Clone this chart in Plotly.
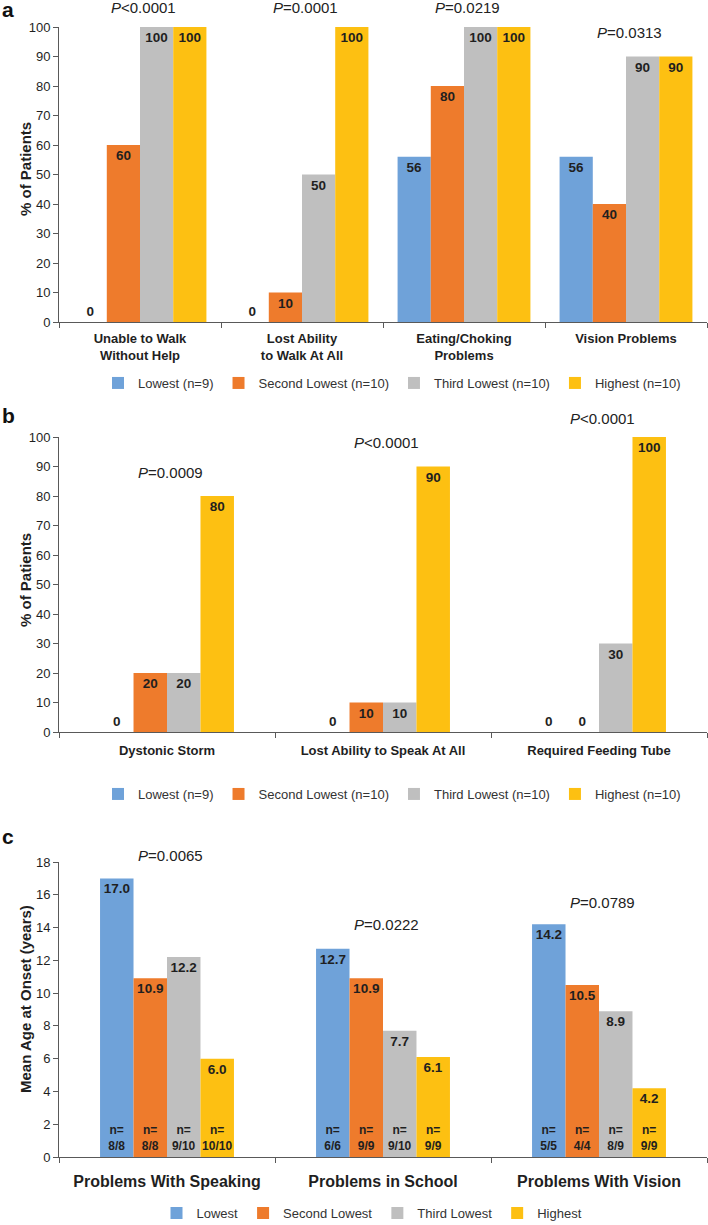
import plotly.graph_objects as go

W, H = 708, 1225

GROUPS = ["Lowest", "Second Lowest", "Third Lowest", "Highest"]
GROUP_N = ["(n=9)", "(n=10)", "(n=10)", "(n=10)"]
COLORS = ["#6fa2d9", "#ee7b2c", "#bfbfbf", "#fdc012"]

# panel a
a_categories = ["Unable to Walk<br>Without Help", "Lost Ability<br>to Walk At All",
                "Eating/Choking<br>Problems", "Vision Problems"]
a_lowest = [0, 0, 56, 56]
a_second = [60, 10, 80, 40]
a_third = [100, 50, 100, 90]
a_highest = [100, 100, 100, 90]
a_pvalues = ["&lt;0.0001", "=0.0001", "=0.0219", "=0.0313"]
a_p_y = [106.5, 106.5, 106.5, 98.0]

# panel b
b_categories = ["Dystonic Storm", "Lost Ability to Speak At All", "Required Feeding Tube"]
b_lowest = [0, 0, 0]
b_second = [20, 10, 0]
b_third = [20, 10, 30]
b_highest = [80, 90, 100]
b_pvalues = ["=0.0009", "&lt;0.0001", "&lt;0.0001"]
b_p_y = [88.0, 98.3, 106.4]

# panel c
c_categories = ["Problems With Speaking", "Problems in School", "Problems With Vision"]
c_lowest = [17.0, 12.7, 14.2]
c_second = [10.9, 10.9, 10.5]
c_third = [12.2, 7.7, 8.9]
c_highest = [6.0, 6.1, 4.2]
c_n_lowest = ["8/8", "6/6", "5/5"]
c_n_second = ["8/8", "9/9", "4/4"]
c_n_third = ["9/10", "9/10", "8/9"]
c_n_highest = ["10/10", "9/9", "9/9"]
c_pvalues = ["=0.0065", "=0.0222", "=0.0789"]
c_p_y = [18.4, 14.2, 15.55]

FONT = "Liberation Sans, Arial, sans-serif"
NARROW = "Liberation Sans Narrow, Arial Narrow, Liberation Sans, Arial, sans-serif"
INK = "#1f1f1f"
AXIS = "#595959"

fig = go.Figure()


def add_panel(idx, cats, series, names, width, fmt, legend):
    xa = "x" if idx == 1 else f"x{idx}"
    ya = "y" if idx == 1 else f"y{idx}"
    for k, vals in enumerate(series):
        fig.add_trace(go.Bar(
            x=cats, y=vals, name=names[k], marker_color=COLORS[k],
            marker_line_width=0,
            width=width, offset=-2 * width + k * width,
            text=[fmt.format(v) for v in vals],
            textposition=["outside" if v == 0 else "inside" for v in vals],
            insidetextanchor="end", textangle=0, constraintext="none",
            textfont=dict(family=NARROW, size=13.5, color=INK, weight="bold"),
            cliponaxis=False, xaxis=xa, yaxis=ya, legend=legend,
        ))


add_panel(1, a_categories, [a_lowest, a_second, a_third, a_highest],
          [f"{g} {n}" for g, n in zip(GROUPS, GROUP_N)], 0.205, "{:g}", "legend")
add_panel(2, b_categories, [b_lowest, b_second, b_third, b_highest],
          [f"{g} {n}" for g, n in zip(GROUPS, GROUP_N)], 0.155, "{:g}", "legend2")
add_panel(3, c_categories, [c_lowest, c_second, c_third, c_highest],
          GROUPS, 0.155, "{:.1f}", "legend3")

# n= labels sitting at the base of the panel c bars
for k, ns in enumerate([c_n_lowest, c_n_second, c_n_third, c_n_highest]):
    fig.add_trace(go.Bar(
        x=c_categories, y=[2.3] * len(ns), width=0.155, offset=-0.31 + k * 0.155,
        marker_color="rgba(0,0,0,0)", marker_line_width=0,
        text=[f"n=<br>{n}" for n in ns],
        textposition="inside", insidetextanchor="middle", textangle=0,
        constraintext="none",
        textfont=dict(family=NARROW, size=12, color=INK, weight="bold"),
        showlegend=False, hoverinfo="skip", xaxis="x3", yaxis="y3",
    ))


def py(pix_y):
    # pixel row from the top -> paper fraction
    return 1 - pix_y / H


def px(pix_x):
    return pix_x / W


xdom = [px(59), px(707)]
base_x = dict(type="category", domain=xdom, showline=True, linecolor=AXIS,
              ticks="outside", tickson="boundaries", ticklen=5, tickcolor=AXIS,
              showgrid=False, zeroline=False, automargin=False)
base_y = dict(showline=True, linecolor=AXIS, ticks="outside", ticklen=5,
              tickcolor=AXIS, showgrid=False, zeroline=False, automargin=False,
              tickfont=dict(family=NARROW, size=13, color=INK))

legend_base = dict(orientation="h", xanchor="center", yanchor="middle",
                   font=dict(family=FONT, size=13, color="#333333"),
                   itemwidth=30, bgcolor="rgba(0,0,0,0)", traceorder="normal")

fig.update_layout(
    width=W, height=H,
    margin=dict(l=0, r=0, t=0, b=0, autoexpand=False),
    paper_bgcolor="white", plot_bgcolor="white",
    font=dict(family=FONT, color=INK),
    barmode="overlay",
    xaxis=dict(base_x, anchor="y", ticklabelstandoff=4,
               tickfont=dict(size=13, color=INK, weight="bold")),
    yaxis=dict(base_y, domain=[py(322), py(27)], range=[0, 100], dtick=10, anchor="x"),
    xaxis2=dict(base_x, anchor="y2", ticklabelstandoff=6,
                tickfont=dict(size=13, color=INK, weight="bold")),
    yaxis2=dict(base_y, domain=[py(732), py(437)], range=[0, 100], dtick=10, anchor="x2"),
    xaxis3=dict(base_x, anchor="y3", ticklabelstandoff=10,
                tickfont=dict(size=16, color=INK, weight="bold")),
    yaxis3=dict(base_y, domain=[py(1157), py(862)], range=[0, 18], dtick=2, anchor="x3"),
    legend=dict(legend_base, x=px(392), y=py(383)),
    legend2=dict(legend_base, x=px(392), y=py(794)),
    legend3=dict(legend_base, x=px(372), y=py(1213)),
)

annotations = []
for letter, ly in [("a", 10), ("b", 415), ("c", 836)]:
    annotations.append(dict(text=f"<b>{letter}</b>", xref="paper", yref="paper",
                            x=px(0), y=py(ly), xanchor="left", yanchor="middle",
                            showarrow=False, font=dict(size=21, color="#111111")))

# y axis titles
for title, ty, size in [("% of Patients", 169, 15), ("% of Patients", 580, 15),
                        ("Mean Age at Onset (years)", 999, 15)]:
    annotations.append(dict(text=f"<b>{title}</b>", xref="paper", yref="paper",
                            x=px(25), y=py(ty), xanchor="center", yanchor="middle",
                            textangle=-90, showarrow=False,
                            font=dict(size=size, color=INK)))

for idx, cats, pvals, pys, top in [(1, a_categories, a_pvalues, a_p_y, 100),
                                   (2, b_categories, b_pvalues, b_p_y, 100),
                                   (3, c_categories, c_pvalues, c_p_y, 18)]:
    xa = "x" if idx == 1 else f"x{idx}"
    ya = "y" if idx == 1 else f"y{idx}"
    for cat, p, pv_y in zip(cats, pvals, pys):
        annotations.append(dict(text=f"<i>P</i>{p}", xref=xa, yref=f"{ya} domain",
                                x=cat, y=pv_y / top,
                                xshift=3, showarrow=False, yanchor="middle",
                                font=dict(size=15, color="#222222")))
fig.update_layout(annotations=annotations)

# the browser's default 8px body margin would push the figure off the window
fig.write_html("out.html", config={"displayModeBar": False},
               post_script="document.body.style.margin = '0';")
